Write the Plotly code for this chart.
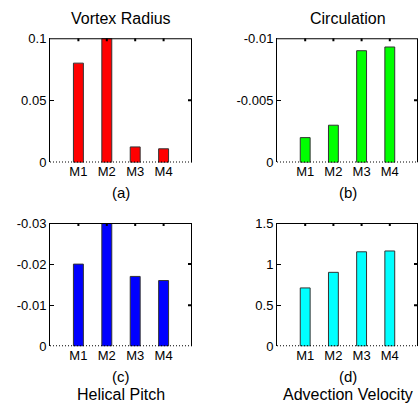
import plotly.graph_objects as go

W, H = 420, 409
ML, MR, MT, MB = 8, 1, 4, 4

categories = ["M1", "M2", "M3", "M4"]
vortex_radius = [0.08, 0.1, 0.0125, 0.011]
circulation = [-0.002, -0.003, -0.009, -0.0093]
helical_pitch = [-0.02, -0.03, -0.017, -0.016]
advection_velocity = [0.71, 0.9, 1.15, 1.16]

titles_top = ["Vortex Radius", "Circulation"]
sub_labels = ["(a)", "(b)", "(c)", "(d)"]
titles_bottom = ["Helical Pitch", "Advection Velocity"]

ytick_a = [0, 0.05, 0.1]
ytick_a_txt = ["0", "0.05", "0.1"]
ytick_b = [0, -0.005, -0.01]
ytick_b_txt = ["0", "-0.005", "-0.01"]
ytick_c = [0, -0.01, -0.02, -0.03]
ytick_c_txt = ["0", "-0.01", "-0.02", "-0.03"]
ytick_d = [0, 0.5, 1, 1.5]
ytick_d_txt = ["0", "0.5", "1", "1.5"]

FONT = "Liberation Sans, Arial, sans-serif"

# panel boxes in pixels: (x0, x1, ytop, ybottom)
boxes = [(50, 192, 35, 162), (277, 418, 35, 162), (50, 192, 224, 350), (277, 418, 224, 350)]
series = [vortex_radius, circulation, helical_pitch, advection_velocity]
colors = ["#ff0000", "#00ff00", "#0000ff", "#00ffff"]
yranges = [[0, 0.1], [0, -0.01], [0, -0.03], [0, 1.5]]
yticks = [(ytick_a, ytick_a_txt), (ytick_b, ytick_b_txt), (ytick_c, ytick_c_txt), (ytick_d, ytick_d_txt)]
XRANGE = [0, 5]

PW, PH = W - ML - MR, H - MT - MB

def px(xp):
    return (xp - ML) / PW

def py(yp):
    return 1 - (yp - MT) / PH

fig = go.Figure()
xpos = list(range(1, len(categories) + 1))

layout = dict(
    width=W, height=H, margin=dict(l=ML, r=MR, t=MT, b=MB),
    paper_bgcolor="white", plot_bgcolor="white", showlegend=False,
    font=dict(family=FONT, size=13, color="black"),
)
annotations = []

for i in range(4):
    x0, x1, yt, yb = boxes[i]
    n = "" if i == 0 else str(i + 1)
    xa, ya = "x" + n, "y" + n
    fig.add_trace(go.Bar(
        x=xpos, y=series[i], xaxis=xa, yaxis=ya, width=0.35,
        marker=dict(color=colors[i], line=dict(color="#333333", width=1)),
        hoverinfo="skip",
    ))
    ylo, yhi = yranges[i]
    xlo, xhi = XRANGE
    # frame helpers expressed through the axis ranges
    dx_tick = 4 * (xhi - xlo) / (x1 - x0)       # 4 px inward tick on right
    dy_tick = 3 * (yhi - ylo) / (yb - yt)       # 3 px inward tick on top
    fx = [xlo, xhi, xhi]
    fy = [yhi, yhi, ylo]
    for v in yticks[i][0][1:-1]:
        fx += [None, xhi, xhi - dx_tick]
        fy += [None, v, v]
    for v in xpos:
        fx += [None, v, v]
        fy += [None, yhi, yhi - dy_tick]
    fig.add_trace(go.Scatter(
        x=fx, y=fy, xaxis=xa, yaxis=ya, mode="lines",
        line=dict(color="black", width=2), hoverinfo="skip", connectgaps=False,
    ))
    fig.add_trace(go.Scatter(
        x=[xlo, xhi], y=[ylo, ylo], xaxis=xa, yaxis=ya, mode="lines",
        line=dict(color="black", width=2, dash="1px,2px"), hoverinfo="skip",
    ))
    xdom = [px(x0), px(x1)]
    ydom = [py(yb), py(yt)]
    layout["xaxis" + n] = dict(
        domain=xdom, anchor=ya, range=XRANGE,
        tickvals=xpos, ticktext=categories, ticks="", showline=False,
        showgrid=False, zeroline=False,
        tickfont=dict(family=FONT, size=13),
    )
    layout["yaxis" + n] = dict(
        domain=ydom, anchor=xa, range=yranges[i],
        tickvals=yticks[i][0], ticktext=yticks[i][1], ticks="inside", ticklen=4,
        tickcolor="black", showline=True, linecolor="black", linewidth=1,
        showgrid=False, zeroline=False,
        tickfont=dict(family=FONT, size=13),
    )
    cx = px((x0 + x1) / 2)
    annotations.append(dict(text=sub_labels[i], x=cx, y=py(yb + 31),
                            xref="paper", yref="paper", showarrow=False,
                            xanchor="center", yanchor="middle",
                            font=dict(family=FONT, size=15)))
    if i < 2:
        annotations.append(dict(text=titles_top[i], x=cx, y=py(15),
                                xref="paper", yref="paper", showarrow=False,
                                xanchor="center", yanchor="middle",
                                font=dict(family=FONT, size=16)))
    else:
        annotations.append(dict(text=titles_bottom[i - 2], x=cx, y=py(399),
                                xref="paper", yref="paper", showarrow=False,
                                xanchor="center", yanchor="middle",
                                font=dict(family=FONT, size=16)))

layout["annotations"] = annotations
fig.update_layout(**layout)
fig.write_html("out.html")
